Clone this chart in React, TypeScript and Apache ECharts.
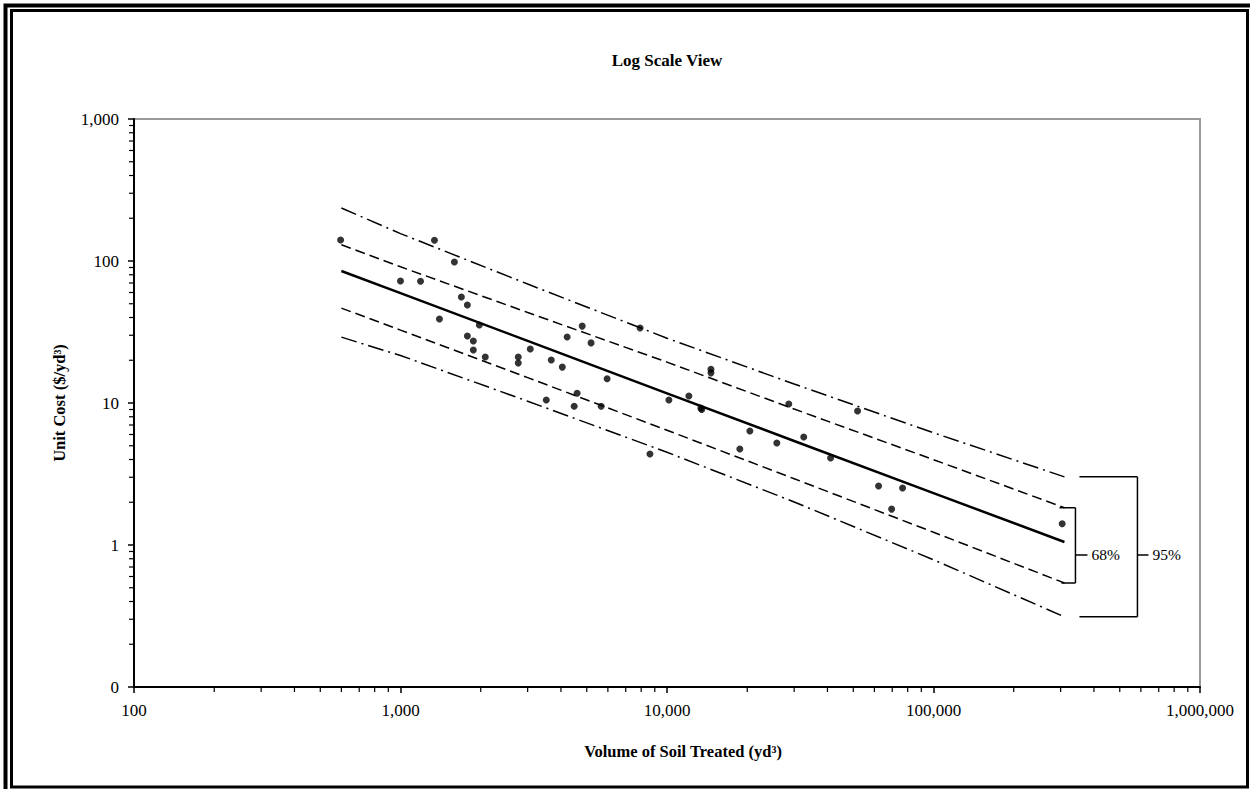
import React, { useEffect, useRef } from "react";
import * as echarts from "echarts";

// Scatter data (volume of soil treated, yd3 ; unit cost $/yd3)
const volumes = [596, 1000, 1189, 1341, 1400, 1593, 1692, 1782, 1782, 1876, 1876, 1976, 2080, 2766, 2766, 3069, 3524, 3679, 4047, 4220, 4484, 4600, 4806, 5188, 5662, 5960, 7925, 8630, 10165, 12080, 13400, 13500, 14620, 14620, 18760, 20460, 25830, 28640, 32590, 41100, 51880, 62210, 69630, 76540, 304000];
const unitCosts = [140.6, 72.3, 72, 140, 39, 98.4, 55.7, 49, 29.6, 27.3, 23.6, 35.4, 21.1, 21.1, 19.1, 24, 10.5, 20.1, 17.9, 29.2, 9.5, 11.7, 34.8, 26.5, 9.5, 14.8, 33.7, 4.37, 10.5, 11.2, 9.2, 9.0, 17.3, 16.3, 4.74, 6.35, 5.23, 9.84, 5.77, 4.1, 8.79, 2.6, 1.79, 2.52, 1.41];

// Regression line and bands
const bandX = [600, 1000, 3000, 10000, 30000, 100000, 310000];
const fitLine = [85, 59.4, 27.4, 11.7, 5.4, 2.32, 1.05];
const upper68 = [130, 91, 43.4, 19.4, 9.07, 3.99, 1.83];
const lower68 = [46.6, 32.6, 15.1, 6.43, 2.93, 1.23, 0.54];
const upper95 = [236, 156, 68.8, 28.6, 13.6, 6.17, 3.02];
const lower95 = [29.1, 21.6, 10.3, 4.5, 2.01, 0.787, 0.312];

// Axes
const xMin = 100;
const xMax = 1000000;
const yMin = 0.1;
const yMax = 1000;
const minorMultipliers = [2, 3, 4, 5, 6, 7, 8, 9];
const xDecades = [100, 1000, 10000, 100000];
const yDecades = [0.1, 1, 10, 100];

const titleText = "Log Scale View";
const xName = "Volume of Soil Treated (yd³)";
const yName = "Unit Cost ($/yd³)";
const band68Label = "68%";
const band95Label = "95%";

const FONT = "'Liberation Serif', 'Times New Roman', serif";

const zip = (xs: number[], ys: number[]) => xs.map((x, i) => [x, ys[i]]);

export default function App() {
  const ref = useRef<HTMLDivElement>(null);
  useEffect(() => {
    if (!ref.current) return;
    const chart = echarts.init(ref.current, null, { renderer: "svg" });

    const minorTickData: number[][] = [];
    xDecades.forEach((d) => minorMultipliers.forEach((m) => minorTickData.push([d * m, yMin, 0])));
    yDecades.forEach((d) => minorMultipliers.forEach((m) => minorTickData.push([xMin, d * m, 1])));

    const fmt = (v: number) => {
      if (v < 1) return "0";
      return Math.round(v).toLocaleString("en-US");
    };

    const axisCommon = {
      type: "log",
      logBase: 10,
      splitLine: { show: false },
      axisLine: { show: true, lineStyle: { color: "#000", width: 2 } },
      axisTick: { show: true, inside: false, length: 6, lineStyle: { color: "#000", width: 1.5 } },
      minorTick: { show: false },
      nameLocation: "middle",
    };
    const nameStyle = { fontFamily: FONT, fontSize: 16.5, fontWeight: "bold", color: "#000" };

    const dashed = [10, 5];
    const dashDot = [16, 5, 2, 5];

    chart.setOption({
      animation: false,
      backgroundColor: "#fff",
      grid: {
        left: 134,
        right: 50,
        top: 119,
        bottom: 102,
        show: true,
        borderColor: "#999",
        borderWidth: 2,
        backgroundColor: "transparent",
        containLabel: false,
      },
      xAxis: {
        ...axisCommon,
        min: xMin,
        max: xMax,
        name: xName,
        nameGap: 56,
        nameTextStyle: { ...nameStyle, padding: [0, 0, 0, 32] },
        axisLabel: { margin: 15, fontFamily: FONT, fontSize: 17, color: "#000", formatter: fmt },
      },
      yAxis: {
        ...axisCommon,
        min: yMin,
        max: yMax,
        name: yName,
        nameGap: 66,
        nameTextStyle: nameStyle,
        axisLabel: { margin: 15, fontFamily: FONT, fontSize: 17, color: "#000", formatter: fmt },
      },
      series: [
        {
          type: "line",
          data: zip(bandX, upper95),
          showSymbol: false,
          symbol: "none",
          lineStyle: { color: "#000", width: 1.5, type: dashDot },
        },
        {
          type: "line",
          data: zip(bandX, lower95),
          showSymbol: false,
          symbol: "none",
          lineStyle: { color: "#000", width: 1.5, type: dashDot },
        },
        {
          type: "line",
          data: zip(bandX, upper68),
          showSymbol: false,
          symbol: "none",
          lineStyle: { color: "#000", width: 1.5, type: dashed },
        },
        {
          type: "line",
          data: zip(bandX, lower68),
          showSymbol: false,
          symbol: "none",
          lineStyle: { color: "#000", width: 1.5, type: dashed },
        },
        {
          type: "line",
          data: zip(bandX, fitLine),
          showSymbol: false,
          symbol: "none",
          lineStyle: { color: "#000", width: 2.5, type: "solid" },
        },
        {
          type: "scatter",
          data: zip(volumes, unitCosts),
          symbol: "circle",
          symbolSize: 7,
          itemStyle: { color: "#000" },
          z: 5,
        },
        {
          type: "custom",
          clip: false,
          silent: true,
          data: minorTickData,
          renderItem: (_p: any, api: any) => {
            const kind = api.value(2);
            const pt = api.coord([api.value(0), api.value(1)]);
            if (kind === 0) {
              return {
                type: "line",
                shape: { x1: pt[0], y1: pt[1], x2: pt[0], y2: pt[1] + 5 },
                style: { stroke: "#000", lineWidth: 1.2 },
              };
            }
            return {
              type: "line",
              shape: { x1: pt[0], y1: pt[1], x2: pt[0] - 5, y2: pt[1] },
              style: { stroke: "#000", lineWidth: 1.2 },
            };
          },
        },
      ],
    });

    const px = (x: number, y: number) => chart.convertToPixel({ gridIndex: 0 } as any, [x, y]) as number[];
    const last = bandX.length - 1;
    const endX = bandX[last];
    const pU68 = px(endX, upper68[last]);
    const pL68 = px(endX, lower68[last]);
    const pU95 = px(endX, upper95[last]);
    const pL95 = px(endX, lower95[last]);
    const pFit = px(endX, fitLine[last]);
    const ex = pU68[0];
    const midY = pFit[1] + 13;
    const titleX = px(10000, 1)[0];
    const lineStyle = { stroke: "#000", lineWidth: 1.5 };

    const v68 = ex + 11;
    const v95 = ex + 73;

    chart.setOption({
      graphic: [
        {
          type: "rect",
          shape: { x: 5.5, y: 5.5, width: 1300, height: 1000 },
          style: { fill: "none", stroke: "#000", lineWidth: 4 },
          silent: true,
        },
        {
          type: "rect",
          shape: { x: 11.5, y: 10.5, width: 1236, height: 776.5 },
          style: { fill: "none", stroke: "#000", lineWidth: 3 },
          silent: true,
        },
        {
          type: "text",
          x: titleX,
          y: 60,
          style: {
            text: titleText,
            fontFamily: FONT,
            fontSize: 17,
            fontWeight: "bold",
            fill: "#000",
            align: "center",
            verticalAlign: "middle",
          },
        },
        // 68% bracket
        { type: "line", shape: { x1: ex - 5, y1: pU68[1], x2: v68, y2: pU68[1] }, style: lineStyle },
        { type: "line", shape: { x1: v68, y1: pU68[1], x2: v68, y2: pL68[1] }, style: lineStyle },
        { type: "line", shape: { x1: ex - 3, y1: pL68[1], x2: v68, y2: pL68[1] }, style: lineStyle },
        { type: "line", shape: { x1: v68, y1: midY, x2: v68 + 12, y2: midY }, style: lineStyle },
        {
          type: "text",
          x: v68 + 16,
          y: midY,
          style: { text: band68Label, fontFamily: FONT, fontSize: 15.5, fill: "#000", align: "left", verticalAlign: "middle" },
        },
        // 95% bracket
        { type: "line", shape: { x1: ex + 15, y1: pU95[1], x2: v95, y2: pU95[1] }, style: lineStyle },
        { type: "line", shape: { x1: v95, y1: pU95[1], x2: v95, y2: pL95[1] }, style: lineStyle },
        { type: "line", shape: { x1: ex + 15, y1: pL95[1], x2: v95, y2: pL95[1] }, style: lineStyle },
        { type: "line", shape: { x1: v95, y1: midY, x2: v95 + 11, y2: midY }, style: lineStyle },
        {
          type: "text",
          x: v95 + 15,
          y: midY,
          style: { text: band95Label, fontFamily: FONT, fontSize: 15.5, fill: "#000", align: "left", verticalAlign: "middle" },
        },
      ],
    });

    return () => chart.dispose();
  }, []);

  return (
    <div
      ref={ref}
      style={{ position: "fixed", left: 0, top: 0, width: 1250, height: 789, background: "#fff" }}
    />
  );
}
